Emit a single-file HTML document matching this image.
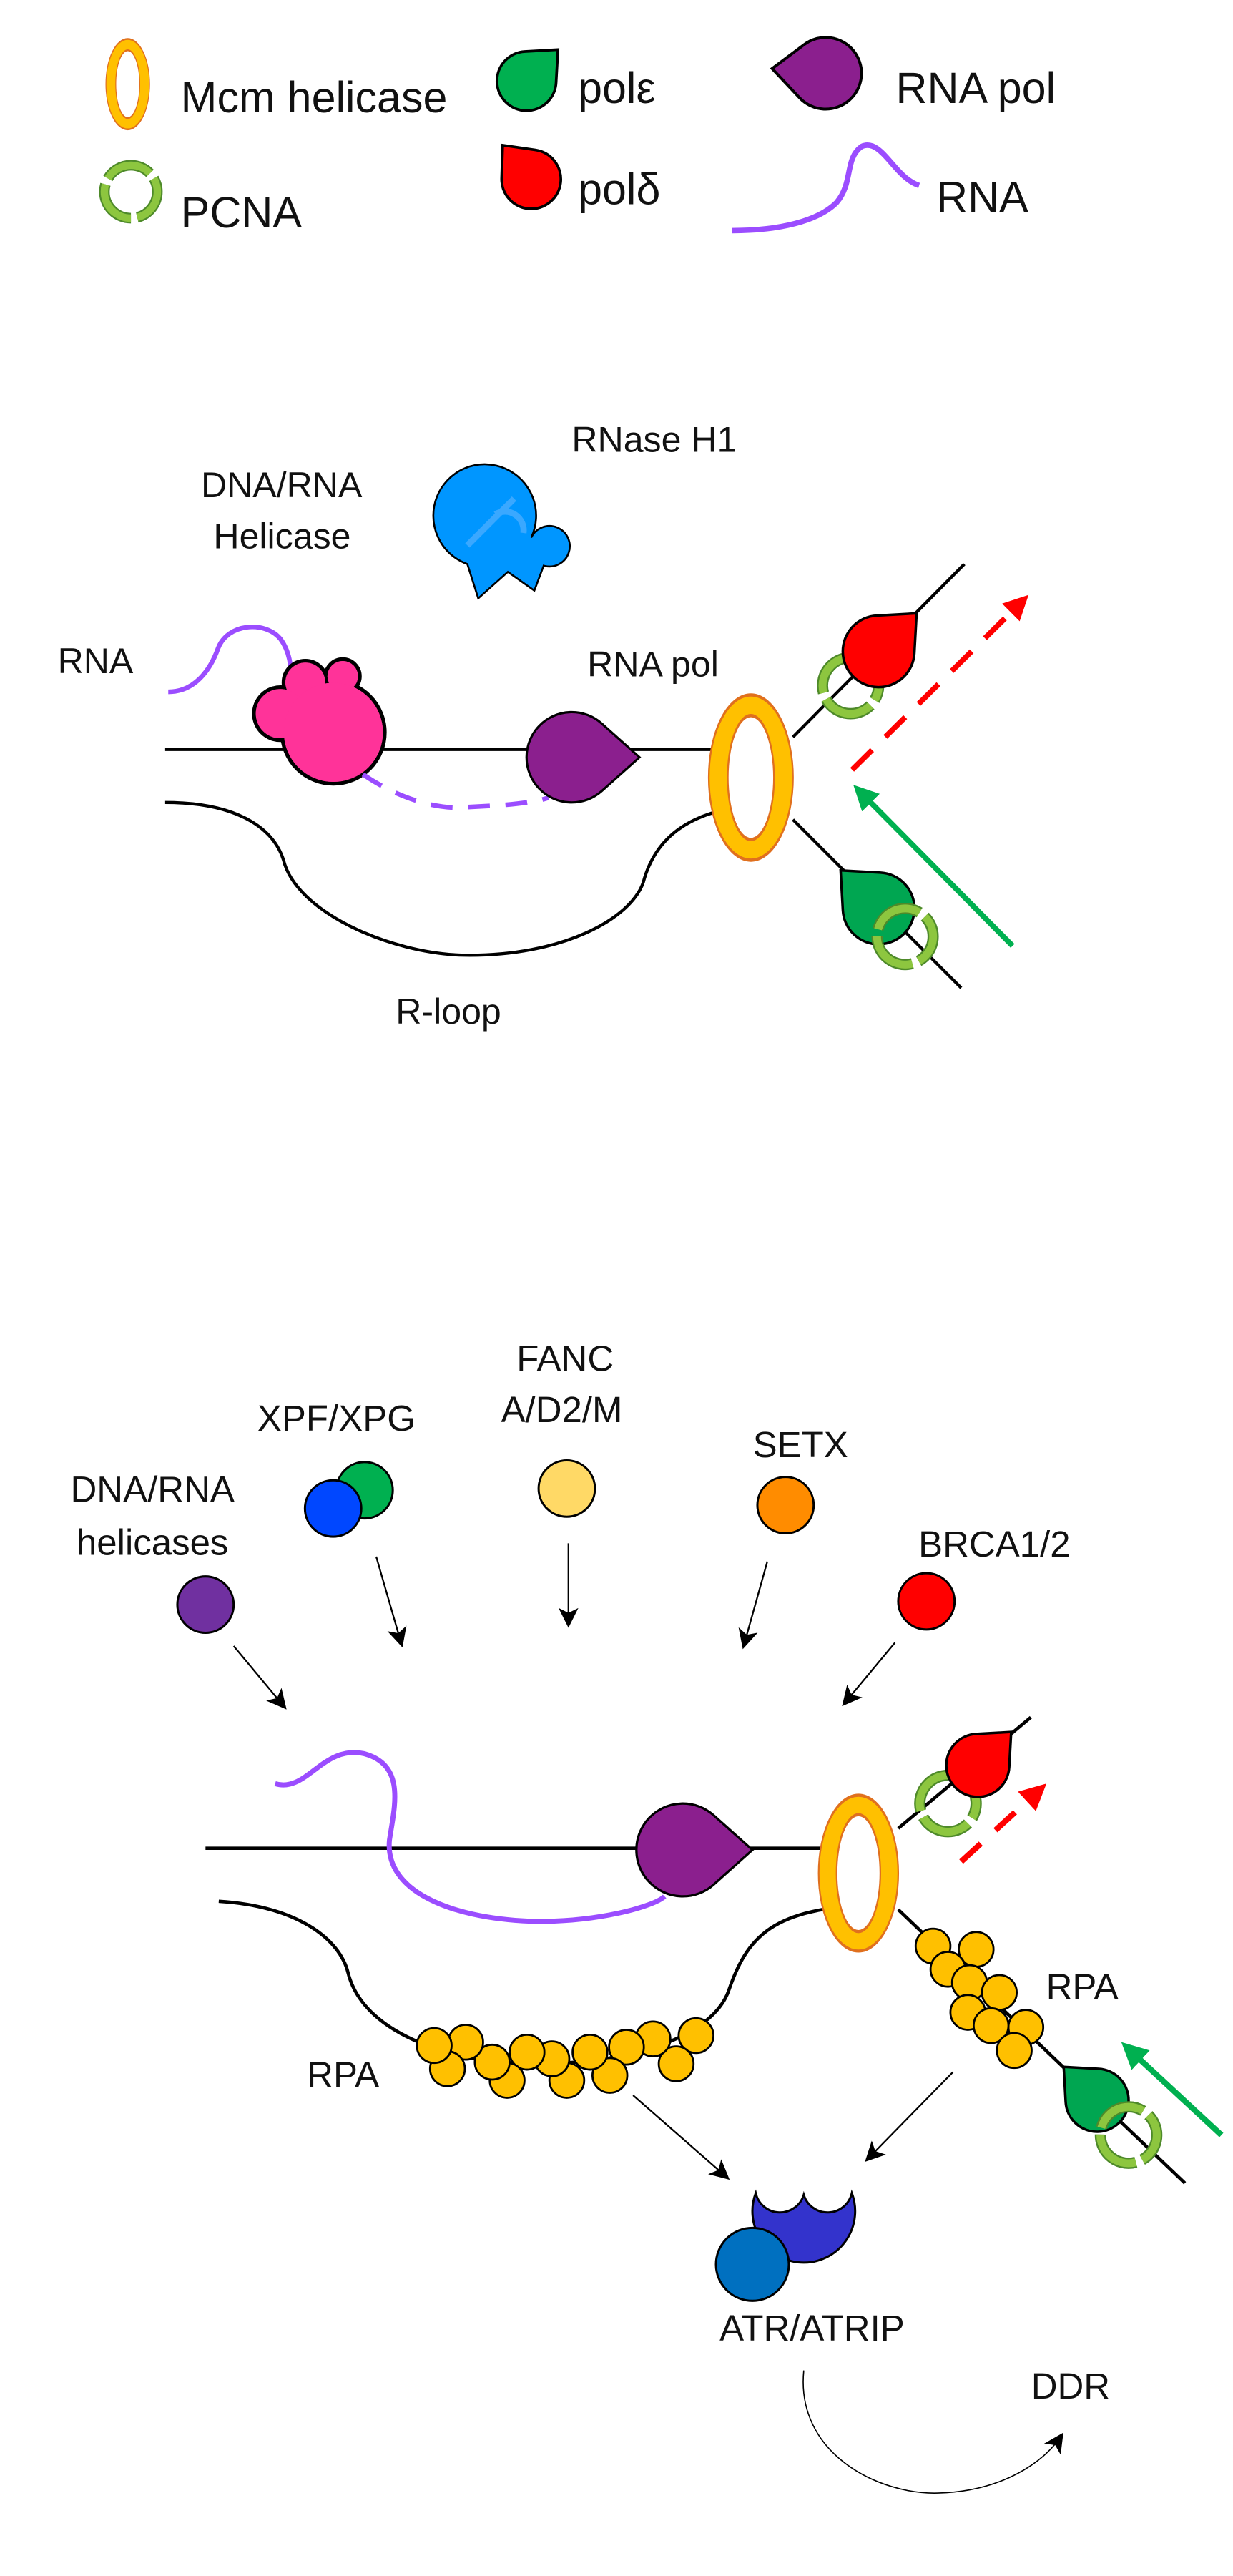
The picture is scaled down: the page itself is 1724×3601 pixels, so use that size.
<!DOCTYPE html>
<html><head><meta charset="utf-8"><style>
html,body{margin:0;padding:0;background:#fff}
svg{display:block}
text{font-family:"Liberation Sans",sans-serif;fill:#111}
</style></head><body>
<svg width="1724" height="3601" viewBox="0 0 744 1554" xmlns="http://www.w3.org/2000/svg">
<defs>
<path id="drop" d="M1.5,0 L0.667,0.745 A1,1 0 1 1 0.667,-0.745 Z"/>
<marker id="ahs" markerWidth="12" markerHeight="12" refX="9" refY="6" orient="auto" markerUnits="userSpaceOnUse"><path d="M0,0 L12,6 L0,12 L3,6 Z" fill="#000"/></marker>
<marker id="ahr" markerWidth="16" markerHeight="16" refX="10" refY="8" orient="auto" markerUnits="userSpaceOnUse"><path d="M0,0 L16,8 L0,16 Z" fill="#ff0000"/></marker>
<marker id="ahg" markerWidth="16" markerHeight="16" refX="10" refY="8" orient="auto" markerUnits="userSpaceOnUse"><path d="M0,0 L16,8 L0,16 Z" fill="#00b050"/></marker>
<g id="pcna"><circle r="1" fill="none" stroke="#4e8a2a" stroke-width="0.4" stroke-dasharray="1.85 0.24"/><circle r="1" fill="none" stroke="#8dc63f" stroke-width="0.28" stroke-dasharray="1.85 0.24"/></g>
<g id="mcm"><ellipse rx="1" ry="1" fill="#ffc000" stroke="#e0701e" stroke-width="0.04"/><ellipse rx="0.55" ry="0.75" fill="#fff" stroke="#e0701e" stroke-width="0.04"/></g>
</defs>

<g transform="scale(0.94)">
<!-- Legend -->
<use href="#mcm" transform="translate(82,54) scale(14,29)"/>
<text x="116" y="72" font-size="28">Mcm helicase</text>
<use href="#drop" transform="translate(338,52) rotate(-45) scale(19)" fill="#00b050" stroke="#000" stroke-width="0.09"/>
<text x="371" y="66" font-size="28">polε</text>
<use href="#drop" transform="translate(530,47) rotate(185) scale(23)" fill="#8b1f8e" stroke="#000" stroke-width="0.08"/>
<text x="575" y="66" font-size="28">RNA pol</text>
<use href="#pcna" transform="translate(84,123) scale(17) rotate(90)"/>
<text x="116" y="146" font-size="28">PCNA</text>
<use href="#drop" transform="translate(341,115) rotate(-130) scale(19)" fill="#ff0000" stroke="#000" stroke-width="0.09"/>
<text x="371" y="131" font-size="28">polδ</text>
<path d="M470,148 C500,148 525,142 537,130 C548,117 542,102 553,94 C566,88 574,114 590,119" fill="none" stroke="#9b4dff" stroke-width="3.5"/>
<text x="601" y="136" font-size="28">RNA</text>

<!-- Section 2 -->
<text x="367" y="290" font-size="23">RNase H1</text>
<text x="129" y="319" font-size="23">DNA/RNA</text>
<text x="137" y="352" font-size="23">Helicase</text>
<path d="M307,384 L300,362 A33,33 0 1 1 341,345 A13,13 0 1 1 349,363 L343,379 L326,367 Z" fill="#0096ff" stroke="#000" stroke-width="1.2"/>
<path d="M300,350 L330,320 M318,330 A12,12 0 0 1 336,342" stroke="#3aa8ff" stroke-width="4" fill="none"/>
<text x="37" y="432" font-size="23">RNA</text>
<path d="M108,444 C125,444 135,430 140,416 C146,400 170,398 180,410 C186,418 187,428 187,437" fill="none" stroke="#9b4dff" stroke-width="3"/>
<line x1="106" y1="481" x2="494" y2="481" stroke="#000" stroke-width="2"/>
<g fill="#ff3399" stroke="#000" stroke-width="2.4">
<circle cx="196" cy="438" r="14"/><circle cx="220" cy="434" r="11"/><circle cx="180" cy="458" r="17"/><circle cx="214" cy="470" r="33"/>
</g>
<g fill="#ff3399">
<circle cx="196" cy="438" r="12.8"/><circle cx="220" cy="434" r="9.8"/><circle cx="180" cy="458" r="15.8"/><circle cx="214" cy="470" r="31.8"/>
</g>
<path d="M233,497 C255,512 280,520 300,518 C320,517 340,516 352,512" fill="none" stroke="#9b4dff" stroke-width="3" stroke-dasharray="14 10"/>
<use href="#drop" transform="translate(367,486) scale(29)" fill="#8b1f8e" stroke="#000" stroke-width="0.05"/>
<text x="377" y="434" font-size="23">RNA pol</text>
<path d="M106,515 C150,515 175,530 182,552 C190,585 250,612 298,613 C360,614 405,590 413,566 C420,540 440,518 494,516" fill="none" stroke="#000" stroke-width="2"/>
<line x1="509" y1="473" x2="619" y2="362" stroke="#000" stroke-width="2"/>
<line x1="509" y1="526" x2="617" y2="634" stroke="#000" stroke-width="2"/>
<use href="#mcm" transform="translate(482,499) scale(27,53)"/>
<use href="#pcna" transform="translate(546,440) scale(18) rotate(45)"/>
<use href="#drop" transform="translate(564,418) rotate(-45) scale(23)" fill="#ff0000" stroke="#000" stroke-width="0.07"/>
<use href="#drop" transform="translate(564,583) rotate(-135) scale(23)" fill="#00a651" stroke="#000" stroke-width="0.07"/>
<use href="#pcna" transform="translate(581,601) scale(18) rotate(-45)"/>
<line x1="547" y1="494" x2="656" y2="386" stroke="#ff0000" stroke-width="3.5" stroke-dasharray="18 12" marker-end="url(#ahr)"/>
<line x1="650" y1="607" x2="552" y2="508" stroke="#00b050" stroke-width="3.5" marker-end="url(#ahg)"/>
<text x="254" y="657" font-size="23">R-loop</text>
</g>

<!-- Section 3 -->
<g font-size="22" text-anchor="middle">
<text x="341" y="827">FANC</text>
<text x="339" y="858">A/D2/M</text>
<text x="203" y="863">XPF/XPG</text>
<text x="92" y="906">DNA/RNA</text>
<text x="92" y="938">helicases</text>
<text x="483" y="879">SETX</text>
<text x="600" y="939">BRCA1/2</text>
</g>
<g stroke="#000" stroke-width="1.3">
<circle cx="124" cy="968" r="17" fill="#7030a0"/>
<circle cx="220" cy="899" r="17" fill="#00b050"/>
<circle cx="201" cy="910" r="17" fill="#0047ff"/>
<circle cx="342" cy="898" r="17" fill="#ffd966"/>
<circle cx="474" cy="908" r="17" fill="#ff8c00"/>
<circle cx="559" cy="966" r="17" fill="#ff0000"/>
</g>
<g stroke="#000" stroke-width="1" fill="none">
<line x1="141" y1="993" x2="171" y2="1029" marker-end="url(#ahs)"/>
<line x1="227" y1="939" x2="242" y2="991" marker-end="url(#ahs)"/>
<line x1="343" y1="931" x2="343" y2="979" marker-end="url(#ahs)"/>
<line x1="463" y1="942" x2="449" y2="992" marker-end="url(#ahs)"/>
<line x1="540" y1="991" x2="510" y2="1027" marker-end="url(#ahs)"/>
</g>
<line x1="124" y1="1115" x2="533" y2="1115" stroke="#000" stroke-width="2"/>
<path d="M166,1076 C185,1082 195,1052 220,1058 C245,1065 238,1090 235,1110 C232,1140 270,1157 320,1159 C360,1160 395,1150 401,1144" fill="none" stroke="#9b4dff" stroke-width="3"/>
<use href="#drop" transform="translate(412,1116) scale(28)" fill="#8b1f8e" stroke="#000" stroke-width="0.05"/>
<path d="M132,1147 C180,1150 205,1170 210,1190 C220,1230 280,1245 322,1245 C390,1245 432,1225 440,1200 C452,1165 470,1150 533,1149" fill="none" stroke="#000" stroke-width="2"/>
<line x1="542" y1="1103" x2="622" y2="1036" stroke="#000" stroke-width="2"/>
<line x1="542" y1="1152" x2="715" y2="1317" stroke="#000" stroke-width="2"/>
<use href="#mcm" transform="translate(518,1130) scale(24,47)"/>
<use href="#pcna" transform="translate(572,1088) scale(17) rotate(45)"/>
<use href="#drop" transform="translate(590,1065) rotate(-45) scale(19)" fill="#ff0000" stroke="#000" stroke-width="0.08"/>
<line x1="580" y1="1123" x2="627" y2="1080" stroke="#ff0000" stroke-width="3.5" stroke-dasharray="16 12" marker-end="url(#ahr)"/>
<g fill="#ffc000" stroke="#000" stroke-width="1.2">
<circle cx="589" cy="1176" r="10.5"/><circle cx="563" cy="1174" r="10.5"/><circle cx="572" cy="1188" r="10.5"/><circle cx="585" cy="1196" r="10.5"/><circle cx="603" cy="1202" r="10.5"/><circle cx="584" cy="1214" r="10.5"/><circle cx="619" cy="1223" r="10.5"/><circle cx="598" cy="1222" r="10.5"/><circle cx="612" cy="1237" r="10.5"/>
<circle cx="420" cy="1228" r="10.5"/><circle cx="408" cy="1245" r="10.5"/><circle cx="394" cy="1230" r="10.5"/><circle cx="378" cy="1235" r="10.5"/><circle cx="368" cy="1252" r="10.5"/><circle cx="356" cy="1238" r="10.5"/><circle cx="342" cy="1255" r="10.5"/><circle cx="333" cy="1242" r="10.5"/><circle cx="318" cy="1238" r="10.5"/><circle cx="306" cy="1255" r="10.5"/><circle cx="297" cy="1244" r="10.5"/><circle cx="281" cy="1232" r="10.5"/><circle cx="270" cy="1248" r="10.5"/><circle cx="262" cy="1234" r="10.5"/>
</g>
<use href="#drop" transform="translate(662,1267) rotate(-135) scale(19)" fill="#00a651" stroke="#000" stroke-width="0.08"/>
<use href="#pcna" transform="translate(681,1288) scale(17) rotate(-45)"/>
<line x1="737" y1="1288" x2="681" y2="1236" stroke="#00b050" stroke-width="3.5" marker-end="url(#ahg)"/>
<text x="653" y="1206" font-size="22" text-anchor="middle">RPA</text>
<text x="207" y="1259" font-size="22" text-anchor="middle">RPA</text>
<g stroke="#000" stroke-width="1" fill="none">
<line x1="382" y1="1264" x2="438" y2="1313" marker-end="url(#ahs)"/>
<line x1="575" y1="1250" x2="524" y2="1302" marker-end="url(#ahs)"/>
</g>
<path d="M456,1323 A15,15 0 0 0 485,1324 A15,15 0 0 0 514,1323 A31,31 0 1 1 456,1323 Z" fill="#3333cc" stroke="#000" stroke-width="1.3"/>
<circle cx="454" cy="1366" r="22" fill="#0070c0" stroke="#000" stroke-width="1.3"/>
<text x="490" y="1412" font-size="22" text-anchor="middle">ATR/ATRIP</text>
<text x="646" y="1447" font-size="22" text-anchor="middle">DDR</text>
<path d="M485,1430 C480,1480 530,1505 566,1504 C605,1503 630,1485 640,1470" fill="none" stroke="#000" stroke-width="0.7" marker-end="url(#ahs)"/>
</svg>
</body></html>
